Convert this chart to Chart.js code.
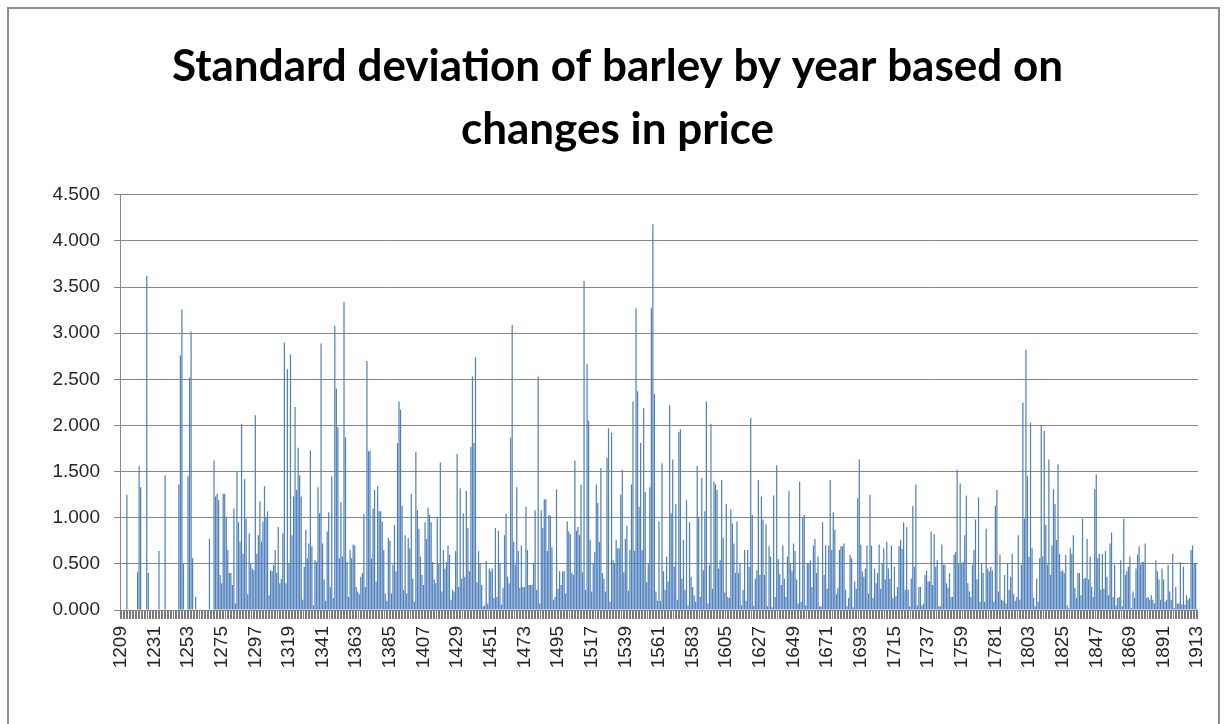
<!DOCTYPE html>
<html>
<head>
<meta charset="utf-8">
<script src="https://cdn.jsdelivr.net/npm/chart.js@4.4.1/dist/chart.umd.min.js"></script>
<style>
html, body { margin: 0; padding: 0; background: #fff; }
#wrap { position: relative; width: 1227px; height: 724px; overflow: hidden; }
#frame { position: absolute; left: 7px; top: 7px; width: 1213px; height: 760px; border: 2px solid #8c8c8c; box-sizing: border-box; pointer-events: none; }
</style>
</head>
<body>
<div id="wrap">
  <canvas id="barleyChart" width="1227" height="724"></canvas>
  <div id="frame"></div>
</div>
<script>
// one category per year, 1209..1913
var years = [];
for (var y = 1209; y <= 1913; y++) years.push(String(y));

// labels shown along the x-axis (every 22nd year)
var tickLabels = ['1209','1231','1253','1275','1297','1319','1341','1363','1385','1407','1429',
  '1451','1473','1495','1517','1539','1561','1583','1605','1627','1649','1671','1693','1715',
  '1737','1759','1781','1803','1825','1847','1869','1891','1913'];

// standard deviation of barley price changes, one value per year
var stdDev = [
  0,0,0,0,1.25,0,0,0,0,0,
  0,0.41,1.56,1.33,0,0,0,3.62,0.40,0,
  0,0,0,0,0,0.64,0,0,0,1.46,
  0,0,0,0,0,0,0,0,1.36,2.76,
  3.26,0.50,0,0,1.45,2.52,3.02,0.56,0,0.14,
  0,0,0,0,0,0,0,0,0.77,0,
  0,1.62,1.23,1.26,1.19,0.38,0.29,1.26,1.26,1.01,
  0.65,0.40,0.40,0.27,1.10,0.07,1.50,0.95,0.74,2.02,
  0.61,1.42,0.99,0.17,0.83,0.50,0.45,0.43,2.11,0.61,
  0.81,1.18,0.74,0.96,1.34,1.00,1.07,0.16,0.43,0.42,
  0.49,0.65,0.40,0.90,0.29,0.34,0.83,2.90,0.29,2.61,
  0.50,2.77,0.81,1.23,2.20,1.30,1.76,1.46,1.23,0.11,
  0.47,0.87,0.56,0.72,1.73,0.69,0.05,0.54,0.52,1.33,
  1.05,2.89,0.72,0.33,0.10,0.85,1.06,0.25,1.45,0.13,
  3.08,2.40,1.98,0.56,1.17,0.58,3.34,1.87,0.52,0.14,
  0.65,0.56,0.71,0.70,0.25,0.20,0.17,0.36,0.40,1.04,
  0.25,2.70,1.72,1.73,0.56,1.10,1.30,0.31,1.34,1.07,
  1.07,0.96,0.65,0.18,0.10,0.78,0.75,0.18,0.49,0.92,
  0.42,1.81,2.26,2.17,1.13,0.22,0.81,0.18,0.78,0.67,
  1.26,0.34,0.09,1.71,1.08,0.88,0.58,0.38,0.27,0.95,
  0.77,1.11,1.03,0.95,0.52,0.33,0.29,1.01,0.51,1.60,
  0.20,0.65,0.45,0.52,0.70,0.60,0.11,0.22,0.20,0.64,
  1.69,0.25,1.32,0.34,1.05,0.36,1.29,0.89,0.42,1.77,
  2.53,1.81,2.74,0.30,0.64,0.50,0.27,0.04,0.05,0.53,
  0.07,0.45,0.42,0.45,0.13,0.89,0.14,0.86,0.50,0.06,
  0.24,0.81,1.04,0.36,0.29,1.87,3.09,0.74,0.49,1.33,
  0.64,0.24,0.70,0.25,0.25,1.12,0.65,0.27,0.27,0.27,
  0.51,1.08,0.22,2.53,0.07,1.08,0.89,1.20,1.20,0.64,
  1.03,1.02,0.68,0.11,0.14,1.31,0.23,0.42,0.27,0.42,
  0.42,0.18,0.96,0.85,0.82,0.40,0.38,1.62,0.86,0.90,
  0.81,1.36,0.41,3.57,0.22,2.67,2.05,0.76,0.20,0.51,
  0.63,1.36,1.16,0.74,1.54,0.40,0.34,0.20,1.65,1.97,
  0.09,1.92,0.54,0.50,0.76,0.67,0.67,1.25,1.52,0.41,
  0.77,0.91,0.21,0.65,1.36,2.26,0.64,3.27,2.37,1.12,
  1.81,0.65,2.19,1.28,0.30,0.50,1.33,3.27,4.18,2.34,
  0.20,0.10,0.96,0.10,1.59,0.42,0.22,0.58,0.31,2.22,
  1.05,1.63,0.47,1.15,0.11,1.93,1.96,0.34,0.76,0.22,
  1.19,0.05,0.95,0.36,0.25,0.16,0.09,1.56,1.01,0.14,
  1.43,0.43,1.07,2.26,0.07,0.49,2.02,0.23,1.39,1.36,
  1.30,0.45,0.54,1.41,0.78,0.19,1.15,0.14,0.13,1.09,
  0.94,0.72,0.40,0.96,0.40,0.51,0.05,0.22,0.65,0.10,
  0.65,0.47,2.08,1.03,0.05,0.34,0.43,1.41,0.38,1.23,
  0.98,0.38,0.93,0.04,0.69,0.58,0.03,1.24,0.14,1.57,
  0.55,0.39,0.27,0.70,0.34,0.14,0.58,1.29,0.51,0.42,
  0.72,0.64,0.33,0.07,1.39,0.09,1.00,1.03,0.05,0.51,
  0.51,0.54,0.25,0.70,0.77,0.40,0.58,0.04,0.04,0.95,
  0.38,0.70,0.23,0.70,1.41,0.65,1.06,0.87,0.17,0.24,
  0.65,0.69,0.69,0.72,0.22,0.04,0.13,0.60,0.56,0.03,
  0.31,0.23,1.21,1.63,0.71,0.42,0.36,0.45,0.70,0.18,
  1.25,0.70,0.13,0.45,0.29,0.40,0.71,0.23,0.51,0.67,
  0.33,0.74,0.45,0.34,0.70,0.13,0.47,0.15,0.25,0.69,
  0.76,0.66,0.95,0.22,0.90,0.22,0.04,0.34,1.13,0.47,
  1.36,0.05,0.25,0.25,0.05,0.07,0.38,0.43,0.31,0.31,
  0.85,0.27,0.82,0.47,0.54,0.04,0.04,0.71,0.49,0.49,
  0.29,0.24,0.40,0.14,0.14,0.60,0.63,1.52,0.50,1.37,
  0.51,0.52,0.81,1.24,0.29,0.20,0.14,0.49,0.65,0.98,
  0.33,1.22,0.09,0.51,0.40,0.09,0.88,0.45,0.42,0.47,
  0.43,0.09,1.13,1.30,0.20,0.60,0.11,0.10,0.38,0.07,
  0.51,0.22,0.36,0.61,0.17,0.10,0.14,0.81,0.11,0.49,
  2.25,0.99,2.82,1.45,0.58,2.03,0.67,0.13,0.04,0.34,
  0.09,0.56,2.00,0.58,1.94,0.92,0.49,1.63,0.38,0.70,
  1.31,1.15,0.76,1.58,0.61,0.42,0.43,0.40,0.60,0.05,
  0.02,0.67,0.61,0.81,0.24,0.13,0.40,0.40,0.16,0.99,
  0.34,0.35,0.77,0.33,0.58,0.25,0.14,1.31,1.47,0.56,
  0.61,0.22,0.61,0.23,0.64,0.36,0.16,0.72,0.84,0.14,
  0.49,0.05,0.13,0.14,0.54,0.04,0.99,0.38,0.42,0.47,
  0.58,0.02,0.20,0.13,0.45,0.60,0.69,0.49,0.52,0.52,
  0.72,0.13,0.14,0.11,0.16,0.11,0.07,0.54,0.42,0.33,
  0.11,0.45,0.33,0.09,0.11,0.49,0.20,0.11,0.61,0.02,
  0.25,0.07,0.07,0.52,0.06,0.47,0.06,0.16,0.11,0.13,
  0.65,0.70,0.51,0.51,0.01
];

var axisGrey = '#868686';
var textColor = '#262626';

var ctx = document.getElementById('barleyChart');
var barleyChart = new Chart(ctx, {
  type: 'bar',
  data: {
    labels: years,
    datasets: [
      {
        data: stdDev,
        backgroundColor: '#4F81BD',
        borderWidth: 0,
        barPercentage: 1.0,
        categoryPercentage: 0.8
      }
    ]
  },
  options: {
    responsive: false,
    animation: false,
    layout: { padding: { left: 28, right: 20, top: 7, bottom: 14 } },
    plugins: {
      legend: { display: false },
      tooltip: { enabled: false },
      title: {
        display: true,
        text: ['Standard deviation of barley by year based on', 'changes in price'],
        color: '#000',
        font: { family: 'Lato', size: 44, weight: 'bold', lineHeight: 1.43 },
        padding: { top: 28, bottom: 34 }
      }
    },
    scales: {
      x: {
        grid: { display: true, drawOnChartArea: false, drawTicks: true, tickLength: 9, color: '#7a7a7a', lineWidth: 1 },
        border: { display: true, color: axisGrey },
        ticks: {
          autoSkip: false,
          minRotation: 90,
          maxRotation: 90,
          padding: 7,
          color: textColor,
          font: { family: 'Liberation Sans', size: 19 },
          callback: function (value, index) {
            var lab = years[index];
            return tickLabels.indexOf(lab) >= 0 ? lab : '';
          }
        },
        afterFit: function (scale) { scale.height = 100; }
      },
      y: {
        min: 0,
        max: 4.5,
        grid: { color: axisGrey, lineWidth: 1, tickLength: 6 },
        border: { display: true, color: axisGrey },
        ticks: {
          stepSize: 0.5,
          padding: 14,
          color: textColor,
          font: { family: 'Liberation Sans', size: 19 },
          callback: function (value) { return value.toFixed(3); }
        },
        afterFit: function (scale) { scale.width = 92; }
      }
    }
  }
});
</script>
</body>
</html>
